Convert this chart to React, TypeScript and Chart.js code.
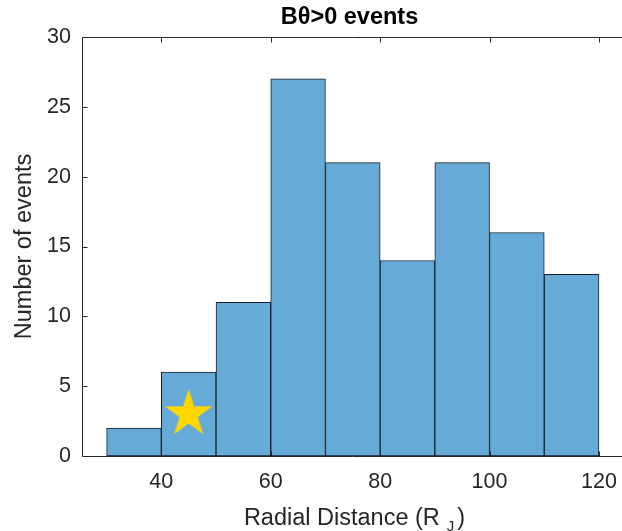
import React, { useEffect, useRef } from "react";
import { Chart, registerables } from "chart.js";

Chart.register(...registerables);

const binCenters = [35, 45, 55, 65, 75, 85, 95, 105, 115];
const counts = [2, 6, 11, 27, 21, 14, 21, 16, 13];
const xTicks = [40, 60, 80, 100, 120];
const yTicks = [0, 5, 10, 15, 20, 25, 30];
const starPoint = [{ x: 45, y: 3 }];
const titleText = "Bθ>0 events";
const yLabel = "Number of events";
const xLabelMain = "Radial Distance (R";
const xLabelSub = "J";
const xLabelEnd = ")";

const FONT = "'Liberation Sans', Arial, Helvetica, sans-serif";
const AXIS_COLOR = "#262626";
const TICK_SIZE = 21.5;
const LABEL_SIZE = 23.5;

function makeStar(R: number, color: string) {
  const size = Math.ceil(R * 2) + 4;
  const c = document.createElement("canvas");
  c.width = size;
  c.height = size;
  const g = c.getContext("2d")!;
  const cx = size / 2;
  const cy = size / 2;
  g.beginPath();
  for (let i = 0; i < 10; i++) {
    const r = i % 2 === 0 ? R : R * 0.382;
    const a = -Math.PI / 2 + (i * Math.PI) / 5;
    const px = cx + r * Math.cos(a);
    const py = cy + r * Math.sin(a);
    if (i === 0) g.moveTo(px, py);
    else g.lineTo(px, py);
  }
  g.closePath();
  g.fillStyle = color;
  g.fill();
  return c;
}

const axesPlugin = {
  id: "matlabAxes",
  afterDraw(chart: any) {
    const { ctx, chartArea: a, scales } = chart;
    const x = scales.x;
    const y = scales.y;
    ctx.save();
    ctx.strokeStyle = AXIS_COLOR;
    ctx.lineWidth = 1;
    const L = Math.round(a.left) + 0.5;
    const T = Math.round(a.top) + 0.5;
    const B = Math.round(a.bottom) + 0.5;
    const R = chart.width + 5;
    ctx.beginPath();
    ctx.moveTo(R, T);
    ctx.lineTo(L, T);
    ctx.lineTo(L, B);
    ctx.lineTo(R, B);
    x.ticks.forEach((t: any) => {
      const px = Math.round(x.getPixelForValue(t.value)) + 0.5;
      ctx.moveTo(px, B);
      ctx.lineTo(px, B - 5);
      ctx.moveTo(px, T);
      ctx.lineTo(px, T + 5);
    });
    y.ticks.forEach((t: any) => {
      const py = Math.round(y.getPixelForValue(t.value)) + 0.5;
      ctx.moveTo(L, py);
      ctx.lineTo(L + 5, py);
    });
    ctx.stroke();

    // x axis title with subscript
    const mainFont = `${LABEL_SIZE}px ${FONT}`;
    const subFont = `15px ${FONT}`;
    ctx.fillStyle = AXIS_COLOR;
    ctx.textBaseline = "alphabetic";
    ctx.textAlign = "left";
    ctx.font = mainFont;
    const w1 = ctx.measureText(xLabelMain).width;
    const w3 = ctx.measureText(xLabelEnd).width;
    ctx.font = subFont;
    const w2 = ctx.measureText(xLabelSub).width;
    const gap1 = 7;
    const gap2 = 3;
    const total = w1 + gap1 + w2 + gap2 + w3;
    let sx = (a.left + chart.width) / 2 + 2.5 - total / 2;
    const baseY = 525;
    ctx.font = mainFont;
    ctx.fillText(xLabelMain, sx, baseY);
    sx += w1 + gap1;
    ctx.font = subFont;
    ctx.fillText(xLabelSub, sx, baseY + 6);
    sx += w2 + gap2;
    ctx.font = mainFont;
    ctx.fillText(xLabelEnd, sx, baseY);
    ctx.restore();
  },
};

export default function App() {
  const ref = useRef<HTMLCanvasElement>(null);
  useEffect(() => {
    document.body.style.margin = "0";
    Chart.defaults.font.family = FONT;
    const canvas = ref.current!;
    const starImg = makeStar(25, "#FFD700");
    const chart = new Chart(canvas, {
      type: "bar",
      data: {
        datasets: [
          {
            type: "scatter",
            data: starPoint,
            pointStyle: starImg as any,
            order: 0,
          } as any,
          {
            type: "bar",
            data: binCenters.map((c, i) => ({ x: c, y: counts[i] })),
            backgroundColor: "#66aad7",
            borderColor: "#15202b",
            borderWidth: 1,
            borderSkipped: false,
            barPercentage: 1,
            categoryPercentage: 1,
            order: 1,
          } as any,
        ],
      },
      options: {
        responsive: false,
        animation: false,
        events: [],
        layout: { padding: 0 },
        plugins: {
          legend: { display: false },
          tooltip: { enabled: false },
          title: {
            display: true,
            text: titleText,
            fullSize: false,
            color: "#000",
            font: { size: LABEL_SIZE, weight: "bold", family: FONT },
            padding: { top: 3.3, bottom: 5.5 },
          },
        },
        scales: {
          x: {
            type: "linear",
            min: 25.5,
            max: 123.3,
            offset: false,
            grid: { display: false, drawTicks: false },
            border: { display: false },
            afterBuildTicks: (s: any) => {
              s.ticks = xTicks.map((v) => ({ value: v }));
            },
            afterFit: (s: any) => {
              s.height = 75;
              s.paddingLeft = 0;
              s.paddingRight = 0;
            },
            ticks: {
              font: { size: TICK_SIZE, family: FONT },
              color: AXIS_COLOR,
              padding: 13.5,
              maxRotation: 0,
              autoSkip: false,
            },
          },
          y: {
            type: "linear",
            min: 0,
            max: 30,
            grid: { display: false, drawTicks: false },
            border: { display: false },
            afterBuildTicks: (s: any) => {
              s.ticks = yTicks.map((v) => ({ value: v }));
            },
            afterFit: (s: any) => {
              s.width = 82;
              s.paddingTop = 0;
              s.paddingBottom = 0;
            },
            ticks: {
              font: { size: TICK_SIZE, family: FONT },
              color: AXIS_COLOR,
              padding: 11,
            },
            title: {
              display: true,
              text: yLabel,
              color: AXIS_COLOR,
              font: { size: LABEL_SIZE, family: FONT },
              padding: { top: 10.6, bottom: 0 },
            },
          },
        },
      } as any,
      plugins: [axesPlugin],
    });
    return () => chart.destroy();
  }, []);
  return (
    <div style={{ width: 622, height: 531 }}>
      <canvas ref={ref} width={622} height={531} style={{ display: "block" }} />
    </div>
  );
}
